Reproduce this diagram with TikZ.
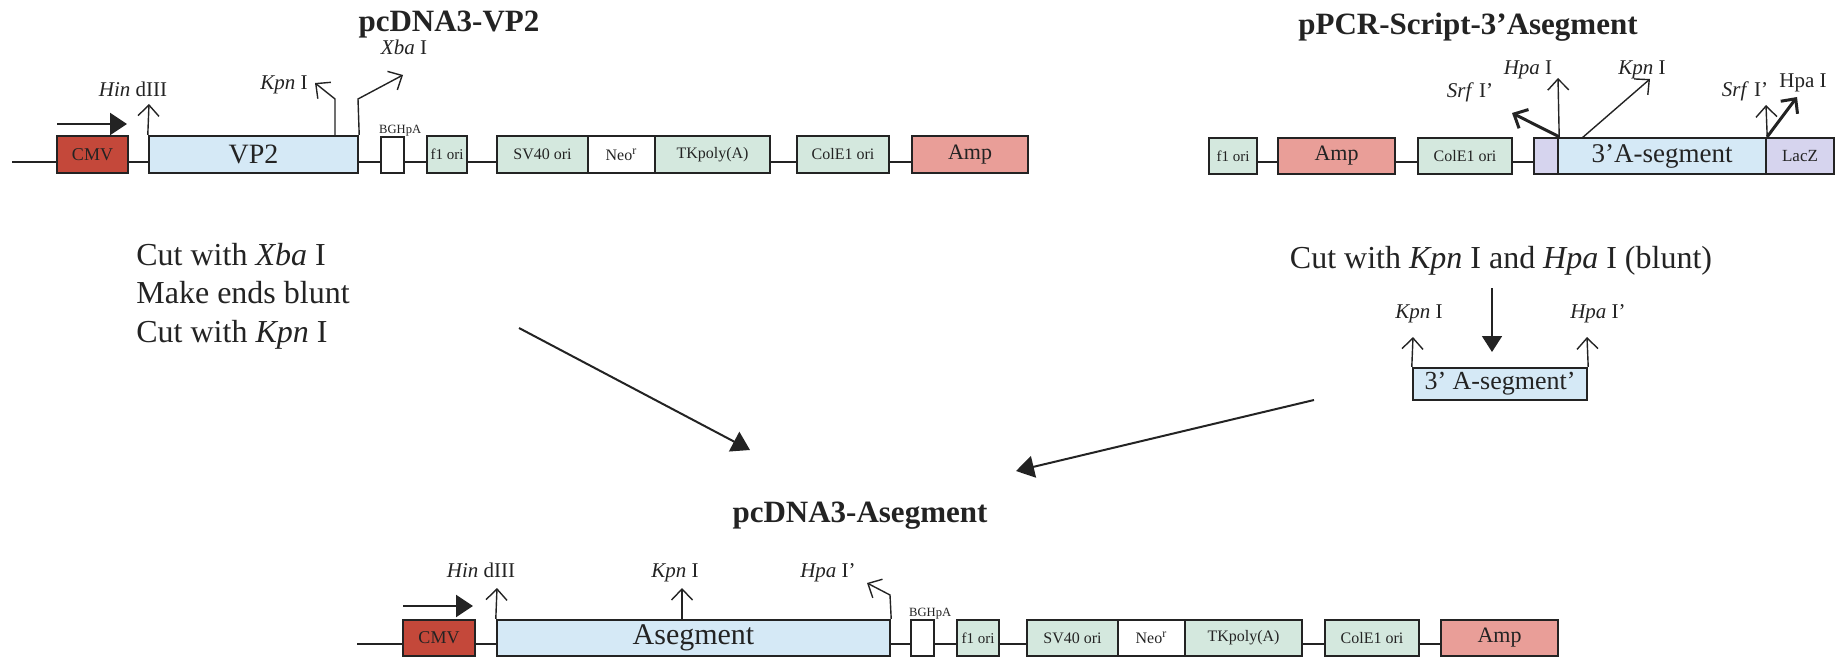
\documentclass[tikz,border=0pt]{standalone}
\usepackage{fontspec}
\setmainfont{Liberation Serif}
\usetikzlibrary{arrows.meta,calc,backgrounds}
\definecolor{cmvred}{RGB}{196,72,58}
\definecolor{segblue}{RGB}{213,233,246}
\definecolor{origreen}{RGB}{212,232,222}
\definecolor{ampred}{RGB}{233,158,152}
\definecolor{lav}{RGB}{214,212,238}
\definecolor{ink}{RGB}{35,35,35}
\begin{document}
\begin{tikzpicture}[x=0.5pt,y=-0.5pt,
  box/.style={draw=ink, line width=1.2pt, inner sep=0pt, text=ink, minimum height=18pt, font=\fontsize{8}{9}\selectfont},
  backbone/.style={draw=ink, line width=1.2pt},
  site/.style={draw=ink, line width=0.7pt, -{Straight Barb[length=5.5pt,width=10.5pt]}},
  tsite/.style={draw=ink, line width=1.5pt, -{Straight Barb[length=5.5pt,width=10.5pt]}},
  lab/.style={font=\fontsize{10.5}{12}\selectfont, text=ink, anchor=base, inner sep=0pt},
  titlelab/.style={font=\fontsize{15.5}{18}\selectfont\bfseries, text=ink, anchor=base, inner sep=0pt},
  body/.style={font=\fontsize{16}{19}\selectfont, text=ink, anchor=base west, inner sep=0pt},
  bigarrow/.style={draw=ink, line width=1pt, -{Triangle[length=9pt,width=11pt]}},
  promo/.style={draw=ink, line width=1.2pt, -{Triangle[length=8.5pt,width=11pt]}},
  bghlab/.style={font=\fontsize{6.3}{7}\selectfont, text=ink, anchor=base west, inner sep=0pt}
]
\useasboundingbox (0,0) rectangle (1837,658);

% ---------- titles ----------
\node[titlelab] (t1) at (449,32) {pcDNA3-VP2};
\node[titlelab] (t2) at (1468,35) {pPCR-Script-3’Asegment};
\node[titlelab] (t3) at (860,522) {pcDNA3-Asegment};

% ---------- top-left plasmid pcDNA3-VP2 ----------
\node[box, fill=cmvred, minimum width=35.5pt, minimum height=18.5pt, font=\fontsize{9}{10}\selectfont] (cmv) at (92.5,154.5) {CMV};
\node[box, fill=segblue, minimum width=104.5pt, minimum height=18.5pt, font=\fontsize{14}{16}\selectfont] (vp2) at (253.5,154.5) {VP2};
\node[box, fill=white, minimum width=11.5pt, minimum height=18pt] (bgh) at (392.5,155) {};
\node[box, fill=origreen, minimum width=20pt, minimum height=18.5pt, font=\fontsize{7.5}{8}\selectfont] (f1) at (447,154.5) {f1 ori};
\node[box, fill=origreen, minimum width=45.5pt, minimum height=18.5pt] (sv) at (542.5,154.5) {SV40 ori};
\node[box, fill=white, minimum width=33.5pt, minimum height=18.5pt] (neo) at (621.5,154.5) {Neo\textsuperscript{r}};
\node[box, fill=origreen, minimum width=57.5pt, minimum height=18.5pt] (tk) at (712.5,154.5) {TKpoly(A)};
\node[box, fill=origreen, minimum width=46pt, minimum height=18.5pt] (cole) at (843,154.5) {ColE1 ori};
\node[box, fill=ampred, minimum width=58pt, minimum height=18.5pt, font=\fontsize{11}{12}\selectfont] (amp) at (970,154.5) {Amp};
\node[bghlab] (bghl) at ($(bgh.north west)+(-1,-2)$) {BGHpA};

\coordinate (bbL) at (12,162);
\begin{scope}[on background layer]
  \draw[backbone] (bbL) -- (bbL -| amp.west);
\end{scope}

\coordinate (pr1a) at (57,124);
\coordinate (pr1b) at (127,124);
\draw[promo] (pr1a) -- (pr1b);

\coordinate (hind1) at (149,104);
\draw[site] (vp2.north west) -- (hind1);
\coordinate (kpn1b) at (335,136);
\coordinate (kpn1m) at (335,99);
\coordinate (kpn1t) at (315,83);
\draw[site] (kpn1b) -- (kpn1m) -- (kpn1t);
\coordinate (xba1m) at (358,99);
\coordinate (xba1t) at (403,75);
\draw[site] (vp2.north east) -- (xba1m) -- (xba1t);

\node[lab] (lhind1) at (133,97) {\textit{Hin} dIII};
\node[lab] (lkpn1) at (284,90) {\textit{Kpn} I};
\node[lab] (lxba1) at (404,55) {\textit{Xba} I};

% ---------- top-right plasmid pPCR-Script ----------
\node[box, fill=origreen, minimum width=24pt, font=\fontsize{7.5}{8}\selectfont] (rf1) at (1233,156) {f1 ori};
\node[box, fill=ampred, minimum width=58.5pt, font=\fontsize{11}{12}\selectfont] (ramp) at (1336.5,156) {Amp};
\node[box, fill=origreen, minimum width=47pt] (rcole) at (1465,156) {ColE1 ori};
\node[box, fill=lav, minimum width=12pt] (rlav) at (1546,156) {};
\node[box, fill=segblue, minimum width=104pt, font=\fontsize{13.5}{15}\selectfont] (rseg) at (1662,156) {3’A-segment};
\node[box, fill=lav, minimum width=34pt, font=\fontsize{8.5}{9}\selectfont] (lacz) at (1800,156) {LacZ};

\coordinate (rbb) at (1233,162);
\begin{scope}[on background layer]
  \draw[backbone] (rbb) -- (rbb -| rlav.west);
\end{scope}

\coordinate (srf2t) at (1512,113);
\coordinate (hpa2t) at (1558,78);
\coordinate (kpn2b) at (1582,138);
\coordinate (kpn2t) at (1650,79);
\coordinate (srf3t) at (1766,105);
\coordinate (hpa3t) at (1797,97);
\draw[tsite] (rlav.north east) -- (srf2t);
\draw[site] (rlav.north east) -- (hpa2t);
\draw[site] (kpn2b) -- (kpn2t);
\draw[site] (rseg.north east) -- (srf3t);
\draw[tsite] (rseg.north east) -- (hpa3t);

\node[lab] (lsrf2) at (1470,98) {\textit{Srf} I’};
\node[lab] (lhpa2) at (1528,75) {\textit{Hpa} I};
\node[lab] (lkpn2) at (1642,75) {\textit{Kpn} I};
\node[lab] (lsrf3) at (1745,97) {\textit{Srf} I’};
\node[lab] (lhpa3) at (1803,88) {Hpa I};

% ---------- left instructions ----------
\node[body] (c1) at (136,265) {Cut with \textit{Xba} I};
\node[body] (c2) at (136,303) {Make ends blunt};
\node[body] (c3) at (136,342) {Cut with \textit{Kpn} I};

% ---------- right instructions and fragment ----------
\node[body, anchor=base] (c4) at (1501,268) {Cut with \textit{Kpn} I and \textit{Hpa} I (blunt)};
\coordinate (dA) at (1492,288);
\coordinate (dB) at (1492,352);
\draw[draw=ink, line width=0.9pt, -{Triangle[length=8pt,width=10pt]}] (dA) -- (dB);

\node[box, fill=segblue, minimum width=87pt, minimum height=16pt, font=\fontsize{13}{15}\selectfont] (frag) at (1500,384) {3’ A-segment’};
\coordinate (fk) at (1413,337);
\coordinate (fh) at (1587,337);
\draw[site] (frag.north west) -- (fk);
\draw[site] (frag.north east) -- (fh);
\node[lab] (lfk) at (1419,318) {\textit{Kpn} I};
\node[lab] (lfh) at (1598,318) {\textit{Hpa} I’};

% ---------- big arrows ----------
\coordinate (la1) at (519,328);
\coordinate (la2) at (750,450);
\draw[bigarrow] (la1) -- (la2);
\coordinate (ra1) at (1314,400);
\coordinate (ra2) at (1016,471);
\draw[bigarrow] (ra1) -- (ra2);

% ---------- bottom plasmid pcDNA3-Asegment ----------
\node[box, fill=cmvred, minimum width=36pt, font=\fontsize{9}{10}\selectfont] (bcmv) at (439,638) {CMV};
\node[box, fill=segblue, minimum width=196.5pt, font=\fontsize{15}{17}\selectfont] (aseg) at (693.5,638) {Asegment};
\node[box, fill=white, minimum width=11.5pt] (bbgh) at (922.5,638) {};
\node[box, fill=origreen, minimum width=21pt, font=\fontsize{7.5}{8}\selectfont] (bf1) at (978,638) {f1 ori};
\node[box, fill=origreen, minimum width=45.5pt] (bsv) at (1072.5,638) {SV40 ori};
\node[box, fill=white, minimum width=33.5pt] (bneo) at (1151.5,638) {Neo\textsuperscript{r}};
\node[box, fill=origreen, minimum width=58.5pt] (btk) at (1243.5,638) {TKpoly(A)};
\node[box, fill=origreen, minimum width=47pt] (bcole) at (1372,638) {ColE1 ori};
\node[box, fill=ampred, minimum width=58.5pt, font=\fontsize{11}{12}\selectfont] (bamp) at (1499.5,638) {Amp};
\node[bghlab] (bbghl) at ($(bbgh.north west)+(-1,-2)$) {BGHpA};

\coordinate (bbB) at (357,644);
\begin{scope}[on background layer]
  \draw[backbone] (bbB) -- (bbB -| bamp.west);
\end{scope}

\coordinate (pr2a) at (403,606);
\coordinate (pr2b) at (473,606);
\draw[promo] (pr2a) -- (pr2b);

\coordinate (hind3) at (497,588);
\coordinate (kpn3b) at (682,620);
\coordinate (kpn3t) at (682,588);
\coordinate (hpa4m) at (890,595);
\coordinate (hpa4t) at (867,583);
\draw[site] (aseg.north west) -- (hind3);
\draw[site] (kpn3b) -- (kpn3t);
\draw[site] (aseg.north east) -- (hpa4m) -- (hpa4t);

\node[lab] (lhind3) at (481,577) {\textit{Hin} dIII};
\node[lab] (lkpn3) at (675,577) {\textit{Kpn} I};
\node[lab] (lhpa4) at (828,577) {\textit{Hpa} I’};
\end{tikzpicture}
\end{document}
